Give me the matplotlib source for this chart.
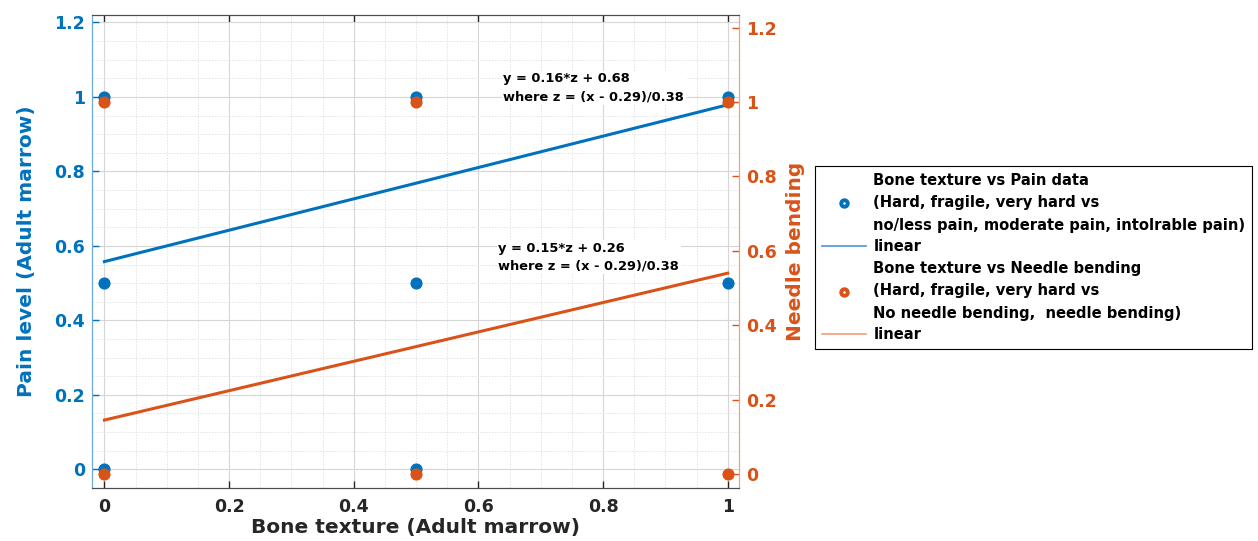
import numpy as np
import matplotlib.pyplot as plt
from matplotlib.lines import Line2D
from matplotlib.legend_handler import HandlerTuple
from matplotlib.ticker import MultipleLocator

plt.rcParams["font.family"] = ["DejaVu Sans"]
plt.rcParams["font.weight"] = "bold"

# Data points
pain_x = [0, 0, 0, 0.5, 0.5, 0.5, 1, 1]
pain_y = [1, 0.5, 0, 1, 0.5, 0, 1, 0.5]
needle_x = [0, 0, 0.5, 0.5, 1, 1]
needle_y = [1, 0, 1, 0, 1, 0]

# Fit coefficients: y = p1*z + p2, z = (x - mu)/sigma
pain_fit = [0.16, 0.68]
needle_fit = [0.15, 0.26]
mu, sigma = 0.29, 0.38

x_ticks = [0, 0.2, 0.4, 0.6, 0.8, 1]
y_ticks = [0, 0.2, 0.4, 0.6, 0.8, 1, 1.2]
y_tick_labels = ["0", "0.2", "0.4", "0.6", "0.8", "1", "1.2"]

blue = "#0072BD"
orange = "#D95319"

fig = plt.figure(figsize=(12.58, 5.41), dpi=100)
ax = fig.add_axes([0.0731, 0.098, 0.5143, 0.8743])
ax2 = ax.twinx()

xf = np.array([0, 1])
zf = (xf - mu) / sigma

# Left axis: pain
ax.scatter(pain_x, pain_y, s=60, color=blue, zorder=3)
ax.plot(xf, pain_fit[0] * zf + pain_fit[1], color=blue, lw=2.2, zorder=3)

# Right axis: needle bending
ax2.scatter(needle_x, needle_y, s=60, color=orange, zorder=3)
ax2.plot(xf, needle_fit[0] * zf + needle_fit[1], color=orange, lw=2.2, zorder=3)

ax.set_xlim(-0.02, 1.018)
ax.set_ylim(-0.05, 1.22)
ax2.set_ylim(-0.037, 1.234)

ax.set_xticks(x_ticks)
ax.set_xticklabels(["0", "0.2", "0.4", "0.6", "0.8", "1"])
ax.set_yticks(y_ticks)
ax.set_yticklabels(y_tick_labels)
ax2.set_yticks(y_ticks)
ax2.set_yticklabels(y_tick_labels)

ax.xaxis.set_minor_locator(MultipleLocator(0.05))
ax.yaxis.set_minor_locator(MultipleLocator(0.05))
ax.grid(which="major", color="#d6d6d6", lw=0.8)
ax.grid(which="minor", color="#e3e3e3", lw=0.7, ls=(0, (1.5, 1.5)))
ax.set_axisbelow(True)

ax.tick_params(axis="x", which="major", direction="in", top=True, length=5,
               labelsize=12.5, colors="#262626", pad=7, width=1)
ax.tick_params(axis="y", which="major", direction="in", length=5,
               labelsize=12.5, colors=blue, pad=5, width=1)
ax2.tick_params(axis="y", which="major", direction="in", length=5,
                labelsize=12.5, colors=orange, pad=5, width=1)
ax.tick_params(which="minor", length=0)
ax2.tick_params(which="minor", length=0)

for a in (ax, ax2):
    a.spines["top"].set_color("#4d4d4d")
    a.spines["bottom"].set_color("#4d4d4d")
    a.spines["left"].set_color("#6aa8da")
    a.spines["right"].set_color("#eea27f")

ax.set_xlabel("Bone texture (Adult marrow)", fontsize=14.5, color="#262626",
              fontweight="bold", labelpad=2)
ax.set_ylabel("Pain level (Adult marrow)", fontsize=14.5, color=blue,
              fontweight="bold", labelpad=13)
ax2.set_ylabel("Needle bending", fontsize=14.5, color=orange,
               fontweight="bold", labelpad=7)

box = dict(facecolor="white", edgecolor="none", pad=1)
ax.text(0.64, 1.066, "y = 0.16*z + 0.68\nwhere z = (x - 0.29)/0.38",
        fontsize=9.4, fontweight="bold", va="top", ha="left", bbox=box,
        linespacing=1.5, zorder=4)
ax.text(0.632, 0.611, "y = 0.15*z + 0.26\nwhere z = (x - 0.29)/0.38",
        fontsize=9.4, fontweight="bold", va="top", ha="left", bbox=box,
        linespacing=1.5, zorder=4)

# Legend with marker-with-white-centre handles
def dot(c):
    big = Line2D([], [], ls="none", marker="o", ms=7.5, mew=0, color=c)
    small = Line2D([], [], ls="none", marker="o", ms=1.8, mew=0, color="white")
    return (big, small)

handles = [
    dot(blue),
    Line2D([], [], color="#4b95d4", lw=1.2),
    dot(orange),
    Line2D([], [], color="#f0a07c", lw=1.2),
]
labels = [
    "Bone texture vs Pain data\n(Hard, fragile, very hard vs\nno/less pain, moderate pain, intolrable pain)",
    "linear",
    "Bone texture vs Needle bending\n(Hard, fragile, very hard vs\nNo needle bending,  needle bending)",
    "linear",
]
leg = fig.legend(handles, labels, loc="upper left",
                 bbox_to_anchor=(0.648, 0.693), bbox_transform=fig.transFigure,
                 handler_map={tuple: HandlerTuple(ndivide=1)},
                 prop={"size": 10.6, "weight": "bold"}, fancybox=False,
                 edgecolor="black", framealpha=1, borderpad=0.45,
                 labelspacing=0.45, handlelength=3.0, handletextpad=0.5,
                 borderaxespad=0)
leg.get_frame().set_linewidth(0.8)
for t in leg.get_texts():
    t.set_linespacing(1.62)

fig.savefig("out.png", dpi=100)
